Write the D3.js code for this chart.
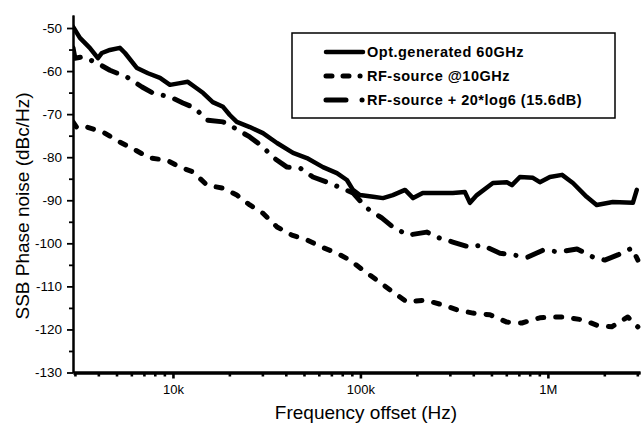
<!DOCTYPE html>
<html><head><meta charset="utf-8">
<script src="https://cdn.jsdelivr.net/npm/d3@7"></script>
<style>
body{margin:0;background:#fff}
svg{display:block}
text{font-family:Arial,"Liberation Sans",sans-serif;fill:#000}
</style></head>
<body><svg id="c" width="641" height="429"></svg>
<script>
// ---- data (Hz, dBc/Hz) ----
const optFreq = [2930,3190,3600,3980,4180,4610,5210,5550,6430,7360,8530,9640,10900,12000,13100,14500,16300,18500,20100,21900,25700,30200,35900,43700,51800,63100,74900,84700,91200,99400,117000,132000,149000,173000,191000,215000,256000,311000,361000,384000,418000,509000,604000,643000,709000,832000,906000,1025000,1190000,1360000,1610000,1820000,2220000,2840000,2980000];
const optDb   = [-49.7,-52.3,-54.6,-57.0,-55.8,-55.1,-54.6,-55.8,-59.3,-60.5,-61.6,-63.2,-62.8,-62.5,-63.7,-65.1,-67.2,-68.3,-70.2,-71.8,-73.0,-74.4,-76.7,-79.0,-80.2,-82.3,-83.7,-85.3,-87.6,-88.8,-89.2,-89.5,-88.8,-87.6,-89.5,-88.3,-88.3,-88.3,-88.1,-90.6,-88.8,-86.0,-85.8,-86.5,-84.6,-84.8,-85.8,-84.6,-84.1,-86.0,-89.2,-91.1,-90.4,-90.6,-87.6];

const rfFreq = [2930,3080,3480,4240,5210,6270,7540,9290,10900,12800,15200,18500,21900,25700,30200,35900,43100,51800,62400,74900,87900,103000,122000,149000,177000,221000,275000,331000,398000,491000,604000,727000,906000,1025000,1230000,1540000,1820000,2190000,2670000,3020000];
const rfDb   = [-71.8,-73.2,-73.0,-74.2,-76.5,-78.3,-80.2,-80.7,-82.3,-83.4,-86.5,-87.2,-88.8,-91.1,-93.0,-96.2,-98.1,-99.2,-100.9,-102.3,-103.9,-106.2,-108.5,-111.3,-113.6,-113.2,-114.3,-115.5,-116.2,-116.6,-118.3,-118.5,-117.3,-117.1,-117.1,-117.8,-119.0,-119.4,-117.1,-119.4];

const rfMulFreq = [2930,3000,3310,3930,4610,5690,6840,7820,9640,11300,13100,15200,18500,20900,25700,30200,34100,40600,47600,55800,66300,79700,91200,108000,130000,149000,179000,226000,265000,311000,384000,445000,555000,650000,782000,940000,1160000,1430000,1740000,2010000,2360000,2810000,3020000];
const rfMulDb   = [-54.6,-57.0,-56.7,-58.1,-59.8,-61.4,-63.7,-65.1,-66.0,-67.4,-68.6,-71.4,-71.8,-73.0,-75.3,-77.6,-80.0,-82.3,-82.5,-84.6,-85.8,-87.2,-88.3,-91.8,-94.1,-96.2,-98.1,-97.4,-98.8,-99.7,-100.9,-100.4,-102.3,-102.7,-103.2,-101.6,-102.0,-101.3,-103.2,-103.9,-102.7,-101.1,-103.9];

const seriesNames = ["Opt.generated 60GHz","RF-source @10GHz","RF-source + 20*log6 (15.6dB)"];
const xMajorTicks = [1e4,1e5,1e6];
const xMajorLabels = ["10k","100k","1M"];
const xMinorTicks = [3e3,4e3,5e3,6e3,7e3,8e3,9e3,2e4,3e4,4e4,5e4,6e4,7e4,8e4,9e4,2e5,3e5,4e5,5e5,6e5,7e5,8e5,9e5,2e6,3e6];
const yMajorTicks = [-130,-120,-110,-100,-90,-80,-70,-60,-50];
const yMinorTicks = [-125,-115,-105,-95,-85,-75,-65,-55];
const xTitle = "Frequency offset (Hz)";
const yTitle = "SSB Phase noise (dBc/Hz)";

// ---- layout ----
const svg = d3.select("#c");
const L = 73, R = 640, T = 15.1, B = 372.5;
const x = d3.scaleLog().domain([2930, 3.1e6]).range([L, R]);
const y = d3.scaleLinear().domain([-130, -47]).range([B, T]);

svg.append("defs").append("clipPath").attr("id","clip")
  .append("rect").attr("x",L).attr("y",T-5).attr("width",R-L+2).attr("height",B-T+5);

// x axis
const xAxisMinor = d3.axisBottom(x).tickValues(xMinorTicks).tickSize(4).tickFormat("").tickSizeOuter(0);
const xAxisMajor = d3.axisBottom(x).tickValues(xMajorTicks).tickSize(6).tickPadding(6)
  .tickFormat((d,i)=>xMajorLabels[i]).tickSizeOuter(0);
const gxm = svg.append("g").attr("transform",`translate(0,${B})`).call(xAxisMinor);
const gx = svg.append("g").attr("transform",`translate(0,${B})`).call(xAxisMajor);
[gxm,gx].forEach(g=>{
  g.select(".domain").attr("stroke","#000").attr("stroke-width",3);
  g.selectAll(".tick line").attr("stroke","#000").attr("stroke-width",2.6);
});
gx.selectAll(".tick text").attr("font-size",13);

// y axis
const yAxisMinor = d3.axisLeft(y).tickValues(yMinorTicks).tickSize(4).tickFormat("").tickSizeOuter(0);
const yAxisMajor = d3.axisLeft(y).tickValues(yMajorTicks).tickSize(6).tickPadding(5)
  .tickFormat(d3.format("d")).tickSizeOuter(0);
const gym = svg.append("g").attr("transform",`translate(${L},0)`).call(yAxisMinor);
const gy = svg.append("g").attr("transform",`translate(${L},0)`).call(yAxisMajor);
[gym,gy].forEach(g=>{
  g.select(".domain").attr("stroke","#000").attr("stroke-width",2);
  g.selectAll(".tick line").attr("stroke","#000").attr("stroke-width",1.8);
});
gy.selectAll(".tick text").attr("font-size",13.5).text(d=>String(d));

// titles
svg.append("text").attr("x",366).attr("y",419).attr("text-anchor","middle")
  .attr("font-size",19).text(xTitle);
svg.append("text").attr("transform","translate(29,206) rotate(-90)").attr("text-anchor","middle")
  .attr("font-size",19).text(yTitle);

// lines
const styles = [
  {dash:null, w:4.5},
  {dash:"6,12", w:5},
  {dash:"16,12,0.1,12", w:5}
];
const legendDash = [null, "6,11,6,11,0.1,100", "20,16,0.1,100"];
const sets = [
  d3.zip(optFreq,optDb),
  d3.zip(rfFreq,rfDb),
  d3.zip(rfMulFreq,rfMulDb)
];
const line = d3.line().x(d=>x(d[0])).y(d=>y(d[1]));
const plot = svg.append("g").attr("clip-path","url(#clip)");
sets.forEach((s,i)=>{
  plot.append("path").datum(s).attr("d",line)
    .attr("fill","none").attr("stroke","#000")
    .attr("stroke-width",styles[i].w)
    .attr("stroke-linecap","round").attr("stroke-linejoin","round")
    .attr("stroke-dasharray",styles[i].dash);
});

// legend
const lg = svg.append("g");
lg.append("rect").attr("x",292).attr("y",33).attr("width",323).attr("height",85)
  .attr("fill","#fff").attr("stroke","#000").attr("stroke-width",1.5);
const rowY = [52,76,100];
seriesNames.forEach((n,i)=>{
  lg.append("line").attr("x1",326).attr("x2",363).attr("y1",rowY[i]).attr("y2",rowY[i])
    .attr("stroke","#000").attr("stroke-width",styles[i].w)
    .attr("stroke-linecap","round").attr("stroke-dasharray",legendDash[i]);
  lg.append("text").attr("x",367).attr("y",rowY[i]+5).attr("font-size",14.5)
    .attr("font-weight","bold").attr("letter-spacing",0.5).text(n);
});
</script></body></html>
